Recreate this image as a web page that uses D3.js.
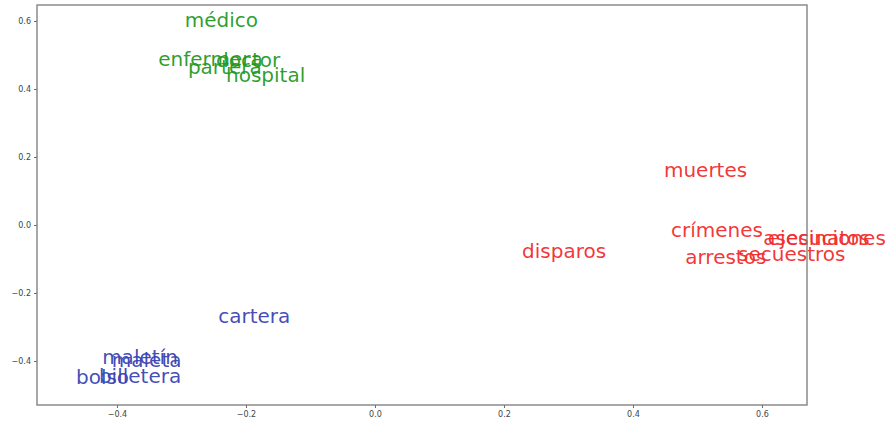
<!DOCTYPE html>
<html>
<head>
<meta charset="utf-8">
<script src="https://cdn.jsdelivr.net/npm/d3@7"></script>
<style>
  html, body { margin: 0; padding: 0; background: #fff; }
  svg { display: block; }
</style>
</head>
<body>
<svg id="chart" width="891" height="424"></svg>
<script>
// Word embedding projection: each word is placed at its 2-D coordinates.
const healthWords = ["médico", "enfermera", "doctor", "partera", "hospital"];
const healthX     = [-0.295, -0.336, -0.2465, -0.290, -0.231];
const healthY     = [0.582, 0.468, 0.465, 0.444, 0.420];

const crimeWords  = ["muertes", "crímenes", "asesinatos", "ejecuciones", "disparos", "secuestros", "arrestos"];
const crimeX      = [0.448, 0.459, 0.602, 0.609, 0.228, 0.563, 0.481];
const crimeY      = [0.141, -0.035, -0.059, -0.060, -0.097, -0.105, -0.115];

const bagWords    = ["cartera", "maletín", "maleta", "billetera", "bolso"];
const bagX        = [-0.243, -0.423, -0.408, -0.428, -0.4636];
const bagY        = [-0.288, -0.409, -0.418, -0.465, -0.468];

const xTicks = [-0.4, -0.2, 0.0, 0.2, 0.4, 0.6];
const yTicks = [-0.4, -0.2, 0.0, 0.2, 0.4, 0.6];

const groups = [
  { words: healthWords, xs: healthX, ys: healthY, color: "#1f991f" },
  { words: crimeWords,  xs: crimeX,  ys: crimeY,  color: "#f22b2b" },
  { words: bagWords,    xs: bagX,    ys: bagY,    color: "#3a43b3" }
];

const svg = d3.select("#chart");
const plotLeft = 37, plotRight = 807, plotTop = 5, plotBottom = 405;

const x = d3.scaleLinear().domain([-0.524, 0.6698]).range([plotLeft, plotRight]);
const y = d3.scaleLinear().domain([-0.5294, 0.6471]).range([plotBottom, plotTop]);

const fmt = v => d3.format(".1f")(v).replace("-", "\u2212");

// Axes
const xAxis = d3.axisBottom(x).tickValues(xTicks).tickFormat(fmt).tickSize(3).tickPadding(3);
const yAxis = d3.axisLeft(y).tickValues(yTicks).tickFormat(fmt).tickSize(3).tickPadding(3);

const gx = svg.append("g").attr("transform", `translate(0,${plotBottom})`).call(xAxis);
const gy = svg.append("g").attr("transform", `translate(${plotLeft},0)`).call(yAxis);
[gx, gy].forEach(g => {
  g.select(".domain").remove();
  g.selectAll(".tick line").attr("stroke", "#666").attr("stroke-width", 1);
  g.selectAll(".tick text")
    .attr("fill", "#444")
    .style("font-family", "'DejaVu Sans', sans-serif")
    .style("font-size", "8px");
});

// Word labels, anchored at their left baseline
const labels = [];
groups.forEach(g => g.words.forEach((w, i) => labels.push({ word: w, x: g.xs[i], y: g.ys[i], color: g.color })));

svg.append("g").selectAll("text")
  .data(labels)
  .join("text")
  .attr("x", d => x(d.x))
  .attr("y", d => y(d.y))
  .attr("fill", d => d.color)
  .attr("fill-opacity", 0.95)
  .style("font-family", "'DejaVu Sans', sans-serif")
  .style("font-size", "20px")
  .text(d => d.word);

// Plot frame
svg.append("rect")
  .attr("x", plotLeft).attr("y", plotTop)
  .attr("width", plotRight - plotLeft).attr("height", plotBottom - plotTop)
  .attr("fill", "none")
  .attr("stroke", "#7a7a7a")
  .attr("stroke-width", 1.3);
</script>
</body>
</html>
